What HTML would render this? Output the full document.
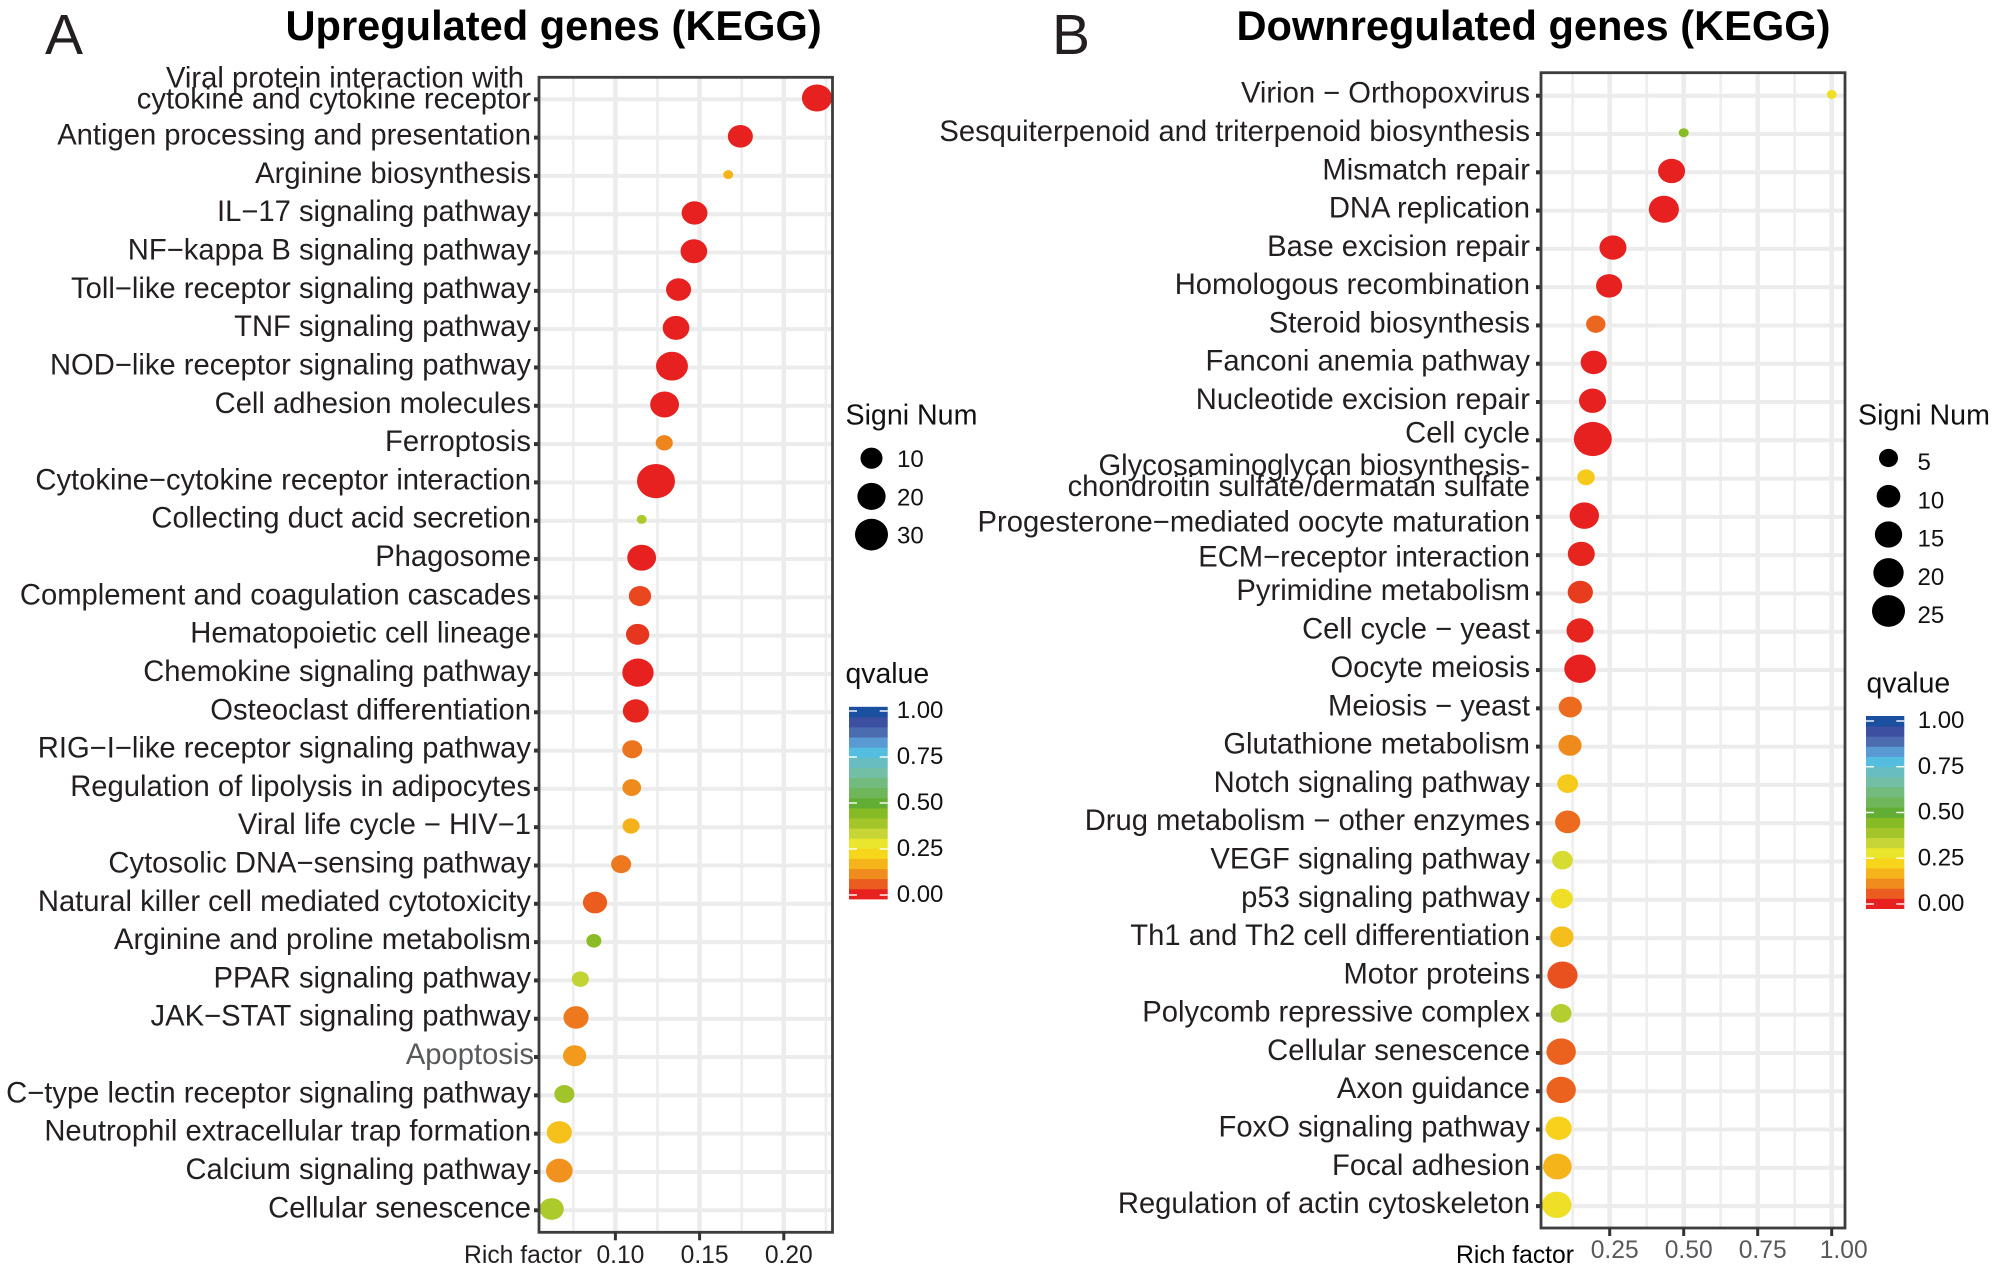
<!DOCTYPE html>
<html lang="en">
<head>
<meta charset="utf-8">
<title>KEGG enrichment dot plots</title>
<style>
html,body{margin:0;padding:0;background:#fff;}
svg{display:block;font-family:"Liberation Sans",Arial,sans-serif;}
</style>
</head>
<body>
<svg id="figure" xmlns="http://www.w3.org/2000/svg" width="2000" height="1273" viewBox="0 0 2000 1273">
  <rect x="0" y="0" width="2000" height="1273" fill="#ffffff"/>
  <text x="45" y="54" font-size="57" fill="#231f20">A</text>
  <text x="1052" y="54" font-size="57" fill="#231f20">B</text>
  <text x="285.5" y="40" font-size="41.6" font-weight="bold" fill="#000">Upregulated genes (KEGG)</text>
  <text x="1236.5" y="40" font-size="41.6" font-weight="bold" fill="#000">Downregulated genes (KEGG)</text>
  <text x="464" y="1263" font-size="24.7" fill="#231f20">Rich factor</text>
  <text x="1456" y="1263" font-size="24.7" fill="#000">Rich factor</text>
  <text x="845.5" y="424.6" font-size="28.6" fill="#111">Signi Num</text>
  <text x="845.5" y="683" font-size="28.4" fill="#111">qvalue</text>
  <text x="1858" y="424.6" font-size="28.6" fill="#111">Signi Num</text>
  <text x="1866.5" y="692.5" font-size="28.4" fill="#111">qvalue</text>
</svg>
<script>
var categoriesA = ["Viral protein interaction with\ncytokine and cytokine receptor","Antigen processing and presentation","Arginine biosynthesis","IL\u221217 signaling pathway","NF\u2212kappa B signaling pathway","Toll\u2212like receptor signaling pathway","TNF signaling pathway","NOD\u2212like receptor signaling pathway","Cell adhesion molecules","Ferroptosis","Cytokine\u2212cytokine receptor interaction","Collecting duct acid secretion","Phagosome","Complement and coagulation cascades","Hematopoietic cell lineage","Chemokine signaling pathway","Osteoclast differentiation","RIG\u2212I\u2212like receptor signaling pathway","Regulation of lipolysis in adipocytes","Viral life cycle \u2212 HIV\u22121","Cytosolic DNA\u2212sensing pathway","Natural killer cell mediated cytotoxicity","Arginine and proline metabolism","PPAR signaling pathway","JAK\u2212STAT signaling pathway","Apoptosis","C\u2212type lectin receptor signaling pathway","Neutrophil extracellular trap formation","Calcium signaling pathway","Cellular senescence"];
var richFactorA = [0.2197,0.1742,0.167,0.147,0.1466,0.1375,0.136,0.1336,0.1292,0.129,0.1241,0.1156,0.1156,0.1146,0.1132,0.1134,0.1121,0.11,0.1097,0.1093,0.1034,0.0879,0.0872,0.0792,0.0766,0.0758,0.0697,0.0667,0.0667,0.0622];
var signiNumA = [18,11,2,12,13,11,13,21,16,4,33,2,16,8,9,20,12,6,5,4,6,10,3,4,11,9,6,11,13,10];
var qvalueA = [0.02,0.02,0.185,0.02,0.02,0.02,0.02,0.02,0.02,0.125,0.02,0.38,0.02,0.06,0.045,0.02,0.03,0.105,0.13,0.18,0.11,0.08,0.44,0.35,0.11,0.15,0.40,0.205,0.14,0.38];
var xMajorA = [0.10,0.15,0.20];
var xMinorA = [0.075,0.125,0.175,0.225];
var xTickLabelsA = ["0.10","0.15","0.20"];
var sizeLegendA = [10,20,30];

var categoriesB = ["Virion \u2212 Orthopoxvirus","Sesquiterpenoid and triterpenoid biosynthesis","Mismatch repair","DNA replication","Base excision repair","Homologous recombination","Steroid biosynthesis","Fanconi anemia pathway","Nucleotide excision repair","Cell cycle","Glycosaminoglycan biosynthesis-\nchondroitin sulfate/dermatan sulfate","Progesterone\u2212mediated oocyte maturation","ECM\u2212receptor interaction","Pyrimidine metabolism","Cell cycle \u2212 yeast","Oocyte meiosis","Meiosis \u2212 yeast","Glutathione metabolism","Notch signaling pathway","Drug metabolism \u2212 other enzymes","VEGF signaling pathway","p53 signaling pathway","Th1 and Th2 cell differentiation","Motor proteins","Polycomb repressive complex","Cellular senescence","Axon guidance","FoxO signaling pathway","Focal adhesion","Regulation of actin cytoskeleton"];
var richFactorB = [1.0,0.5,0.459,0.433,0.261,0.248,0.203,0.196,0.192,0.193,0.17,0.1642,0.154,0.1507,0.1497,0.1497,0.1169,0.1159,0.1081,0.1081,0.0905,0.0885,0.0885,0.0905,0.086,0.086,0.086,0.0777,0.0733,0.0713];
var signiNumB = [2,2,12,16,12,11,5,11,12,29,4,15,12,10,12,18,8,8,6,10,6,7,8,16,6,15,15,11,14,15];
var qvalueB = [0.27,0.44,0.02,0.02,0.02,0.02,0.09,0.02,0.02,0.02,0.22,0.02,0.03,0.05,0.03,0.02,0.095,0.13,0.22,0.095,0.32,0.27,0.20,0.07,0.37,0.085,0.085,0.23,0.185,0.27];
var xMajorB = [0.25,0.50,0.75,1.00];
var xMinorB = [0.125,0.375,0.625,0.875];
var xTickLabelsB = ["0.25","0.50","0.75","1.00"];
var sizeLegendB = [5,10,15,20,25];

var colorTicks = [0,0.25,0.5,0.75,1];
var colorTickLabels = ["0.00","0.25","0.50","0.75","1.00"];
var colorRamp = ["#e6211f","#ea5c1f","#ef8c1d","#f4b41a","#f7d51b","#eae52d","#c7d636","#a3c52a","#86bb25","#62ae35","#6fb55a","#73ba7e","#72bfa5","#68bdc0","#55bde0","#5a9ad3","#4c6cb0","#3d4fa0","#1b4f9f"];

var NS = "http://www.w3.org/2000/svg";
var svg = document.getElementById("figure");

function make(tag, attrs, parent) {
  var el = document.createElementNS(NS, tag);
  for (var k in attrs) el.setAttribute(k, attrs[k]);
  (parent || svg).appendChild(el);
  return el;
}
function hexToRgb(h) {
  return [parseInt(h.substr(1,2),16), parseInt(h.substr(3,2),16), parseInt(h.substr(5,2),16)];
}
function colorFor(q) {
  var pos = Math.max(0, Math.min(colorRamp.length - 1, q * colorRamp.length - 0.5));
  var i = Math.floor(pos), f = pos - i;
  var a = hexToRgb(colorRamp[i]);
  var b = hexToRgb(colorRamp[Math.min(i + 1, colorRamp.length - 1)]);
  return "rgb(" + [0,1,2].map(function (c) { return Math.round(a[c] + (b[c] - a[c]) * f); }).join(",") + ")";
}

function drawPanel(cfg) {
  var xScale = function (v) { return cfg.x0 + (v - cfg.v0) * cfg.pxPerUnit; };
  var yScale = function (i) { return cfg.rowTop + i * cfg.rowStep; };
  var sizeScale = function (n) { return 10 + 28 * Math.sqrt(Math.max(0, n - cfg.nMin) / (cfg.nMax - cfg.nMin)); };
  var g = make("g", {});
  
  

  var bg = make("rect", {x: cfg.left, y: cfg.top, width: cfg.right - cfg.left, height: cfg.bottom - cfg.top, fill: "#fff"}, g);
  
  

  cfg.minor.forEach(function (v) {
    var l = make("line", {x1: xScale(v), x2: xScale(v), y1: cfg.top, y2: cfg.bottom, stroke: "#eeeeee", "stroke-width": 2.7}, g);
    
    
  });
  cfg.major.forEach(function (v) {
    var l = make("line", {x1: xScale(v), x2: xScale(v), y1: cfg.top, y2: cfg.bottom, stroke: "#ececec", "stroke-width": 4.5}, g);
    
    
  });
  cfg.categories.forEach(function (c, i) {
    var l = make("line", {x1: cfg.left, x2: cfg.right, y1: yScale(i), y2: yScale(i), stroke: "#ececec", "stroke-width": 4}, g);
    
    
  });

  cfg.categories.forEach(function (c, i) {
    var y = yScale(i);
    var tick = make("line", {x1: cfg.left - 5, x2: cfg.left, y1: y, y2: y, stroke: "#333", "stroke-width": 4}, g);
    
    
    var parts = c.split("\n");
    var nudge = cfg.labelNudge[i] || 0;
    if (parts.length === 2) {
      var l1 = make("text", {x: cfg.labelX + cfg.twoLine.dx1, y: y + cfg.twoLine.y1, "text-anchor": "end", "font-size": 29.2, fill: "#231f20"}, g);
      l1.textContent = parts[0];
      
      
      var l2 = make("text", {x: cfg.labelX, y: y + cfg.twoLine.y2, "text-anchor": "end", "font-size": 29.2, fill: "#231f20"}, g);
      l2.textContent = parts[1];
      
      
    } else {
      var isGray = c === cfg.grayLabel;
      var t = make("text", {x: cfg.labelX + (isGray ? 3 : 0), y: y + 7 + nudge, "text-anchor": "end", "font-size": 29.2, fill: isGray ? "#58595b" : "#231f20"}, g);
      t.textContent = c;
      
      
    }
  });

  cfg.values.forEach(function (v, i) {
    var w = sizeScale(cfg.sizes[i]);
    var dot = make("ellipse", {cx: xScale(v), cy: yScale(i) - 1.3, rx: w / 2, ry: w * 0.45, fill: colorFor(cfg.q[i])}, g);
    
    
  });

  var frame = make("rect", {x: cfg.left, y: cfg.top, width: cfg.right - cfg.left, height: cfg.bottom - cfg.top, fill: "none", stroke: "#3d3d3d", "stroke-width": 2.8}, g);
  
  

  cfg.major.forEach(function (v, i) {
    var tk = make("line", {x1: xScale(v), x2: xScale(v), y1: cfg.bottom, y2: cfg.bottom + 8, stroke: "#333", "stroke-width": 3}, g);
    
    
    var lab = make("text", {x: xScale(v) + (cfg.tickNudge[i] || 5), y: cfg.tickBaseline, "text-anchor": "middle", "font-size": 24.6, fill: cfg.tickColor}, g);
    lab.textContent = cfg.tickLabels[i];
    
    
  });
}

function drawSizeLegend(cfg) {
  var g = make("g", {});
  
  
  var legendY = function (i) { return cfg.y0 + i * cfg.step; };
  var legendD = function (n) { return cfg.a + cfg.b * Math.sqrt(n); };
  cfg.values.forEach(function (n, i) {
    var d = legendD(n);
    var dot = make("ellipse", {cx: cfg.x, cy: legendY(i), rx: d / 2, ry: d * 0.48, fill: "#000"}, g);
    
    
    var t = make("text", {x: cfg.labelX, y: legendY(i) + cfg.labelDy, "font-size": 24, fill: "#111"}, g);
    t.textContent = String(n);
    
    
  });
}

function drawColorBar(cfg) {
  var g = make("g", {});
  
  
  var n = colorRamp.length;
  var h = (cfg.bottom - cfg.top) / n;
  colorRamp.forEach(function (c, i) {
    var r = make("rect", {x: cfg.left, y: cfg.bottom - (i + 1) * h, width: cfg.right - cfg.left, height: h + 0.4, fill: c}, g);
    
    
  });
  var yScale = function (q) { return cfg.y0 - q * (cfg.y0 - cfg.y1); };
  colorTicks.forEach(function (q, i) {
    var y = yScale(q);
    var a = make("line", {x1: cfg.left, x2: cfg.left + 8, y1: y, y2: y, stroke: "#fff", "stroke-width": 1.4}, g);
    
    
    var b = make("line", {x1: cfg.right - 8, x2: cfg.right, y1: y, y2: y, stroke: "#fff", "stroke-width": 1.4}, g);
    
    
    var t = make("text", {x: cfg.labelX, y: y + 7, "font-size": 24, fill: "#111"}, g);
    t.textContent = colorTickLabels[i];
    
    
  });
}

drawPanel({
  id: "a", left: 539, right: 832.5, top: 77.3, bottom: 1232.3,
  x0: 615.4, v0: 0.10, pxPerUnit: 1684,
  rowTop: 99.3, rowStep: 38.31,
  nMin: 2, nMax: 33,
  categories: categoriesA, values: richFactorA, sizes: signiNumA, q: qvalueA,
  major: xMajorA, minor: xMinorA, tickLabels: xTickLabelsA,
  tickNudge: {}, tickBaseline: 1263, tickColor: "#231f20",
  labelX: 531, labelNudge: {},
  twoLine: {dx1: -7, y1: -12, y2: 9},
  grayLabel: "Apoptosis"
});
drawPanel({
  id: "b", left: 1541, right: 1845, top: 72.7, bottom: 1228,
  x0: 1609.7, v0: 0.25, pxPerUnit: 296,
  rowTop: 95.7, rowStep: 38.29,
  nMin: 2, nMax: 29,
  categories: categoriesB, values: richFactorB, sizes: signiNumB, q: qvalueB,
  major: xMajorB, minor: xMinorB, tickLabels: xTickLabelsB,
  tickNudge: {3: 12}, tickBaseline: 1258, tickColor: "#58595b",
  labelX: 1530, labelNudge: {9: -4.6, 11: 7.8, 12: 4.5, 13: -0.5, 14: -0.5, 15: -0.3},
  twoLine: {dx1: 0, y1: -3.6, y2: 17.4},
  grayLabel: null
});
drawSizeLegend({id: "a", values: sizeLegendA, x: 871.5, y0: 458.2, step: 38.2, labelX: 897, labelDy: 9, a: 7, b: 4.75});
drawSizeLegend({id: "b", values: sizeLegendB, x: 1888.5, y0: 458, step: 38.25, labelX: 1917.5, labelDy: 12, a: 7.67, b: 5.07});
drawColorBar({id: "a", left: 849, right: 887.7, top: 706.8, bottom: 899, y0: 895, y1: 711, labelX: 896.7});
drawColorBar({id: "b", left: 1866, right: 1904.3, top: 716, bottom: 908.6, y0: 904, y1: 721, labelX: 1917.7});
</script>
</body>
</html>
